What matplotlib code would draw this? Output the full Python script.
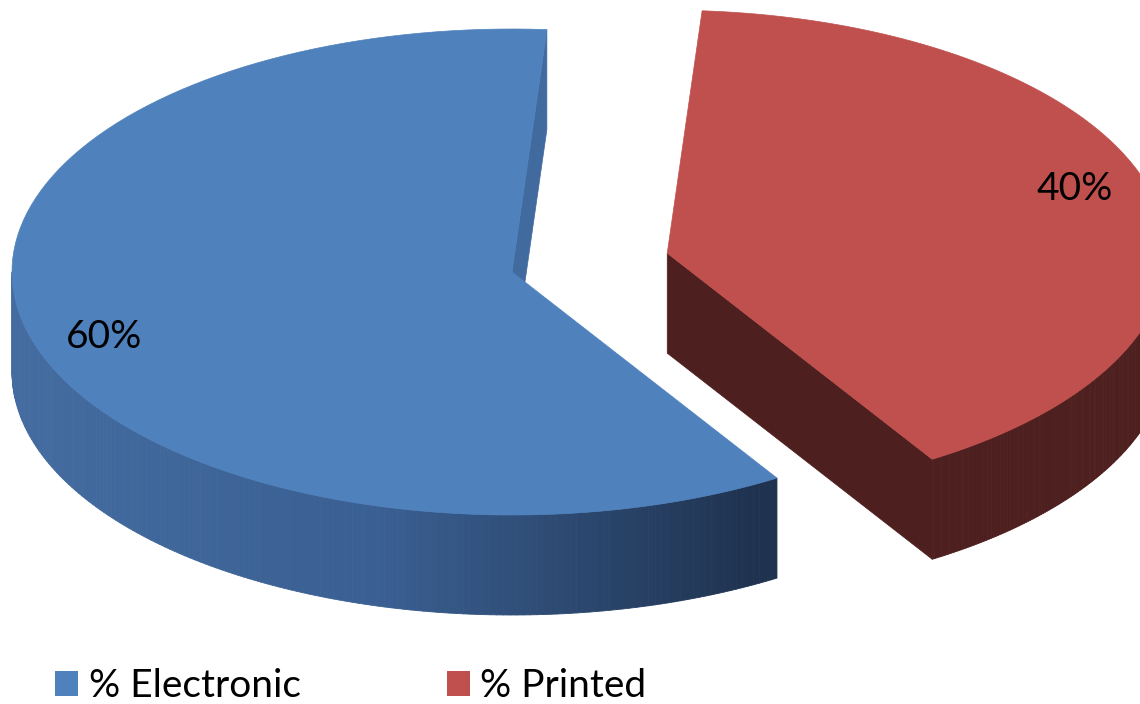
import matplotlib.pyplot as plt
import numpy as np
from matplotlib.collections import PolyCollection
from matplotlib.colors import LinearSegmentedColormap
from matplotlib.patches import Patch, Polygon

CATEGORIES = ["% Electronic", "% Printed"]
SHARES = [60, 40]
LABELS = ["60%", "40%"]
TOP_COLORS = ["#4F81BD", "#C0504D"]
RADIAL_COLORS = ["#416A9E", "#4E1F1F"]
SIDE_COLORS = [["#446CA0", "#3A5F92", "#1F3350"], ["#4E1F1F", "#4E1F1F"]]
EXPLODE = [0.0, 0.32]

W, H = 1140, 704
CENTER = (512, 272)
RX, RY = 500, 243
DEPTH = 100
START_ANGLE = 86
LABEL_R = (0.84, 1.1)
FONT = ["Lato", "DejaVu Sans"]


def pt(cx, cy, ang, rx=1.0, ry=1.0):
    t = np.radians(ang)
    return np.array([cx + rx * RX * np.cos(t), cy - ry * RY * np.sin(t)])


def arc(cx, cy, a0, a1, n=120):
    t = np.radians(np.linspace(a0, a1, n))
    return np.column_stack([cx + RX * np.cos(t), cy - RY * np.sin(t)])


def front_range(a0, a1):
    # part of [a0, a1] that faces the viewer (lower half of the ellipse)
    out = []
    for k in range(-1, 3):
        lo, hi = 180 + 360 * k, 360 + 360 * k
        s, e = max(a0, lo), min(a1, hi)
        if e > s:
            out.append((s, e))
    return out


def draw_slice(ax, cx, cy, a0, a1, top, radial, side):
    d = np.array([0, DEPTH])
    c = np.array([cx, cy])
    # radial faces
    for ang, sign in [(a0, 1), (a1, -1)]:
        if sign * np.cos(np.radians(ang)) > 0:
            p = pt(cx, cy, ang)
            ax.add_patch(Polygon([c, p, p + d, c + d], closed=True,
                                 facecolor=radial, edgecolor=radial, lw=0.5))
    # outer wall with horizontal shading
    cmap = LinearSegmentedColormap.from_list("side", side)
    for s, e in front_range(a0, a1):
        pts = arc(cx, cy, s, e, 160)
        quads = [[pts[i], pts[i + 1], pts[i + 1] + d, pts[i] + d]
                 for i in range(len(pts) - 1)]
        xm = (pts[:-1, 0] + pts[1:, 0]) / 2
        cols = cmap((xm - (cx - RX)) / (2 * RX * 0.74))
        ax.add_collection(PolyCollection(quads, facecolors=cols,
                                         edgecolors=cols, linewidths=0.6))
    # top face
    face = np.vstack([c, arc(cx, cy, a0, a1)])
    ax.add_patch(Polygon(face, closed=True, facecolor=top, edgecolor=top, lw=0.5))


def main():
    fig = plt.figure(figsize=(W / 100, H / 100), dpi=100)
    ax = fig.add_axes([0, 0, 1, 1])
    ax.set_xlim(0, W)
    ax.set_ylim(H, 0)
    ax.axis("off")

    total = sum(SHARES)
    a0 = START_ANGLE
    for i, share in enumerate(SHARES):
        sweep = 360 * share / total
        a1 = a0 + sweep
        mid = np.radians(a0 + sweep / 2)
        cx = CENTER[0] + EXPLODE[i] * RX * np.cos(mid)
        cy = CENTER[1] - EXPLODE[i] * RY * np.sin(mid)
        draw_slice(ax, cx, cy, a0, a1, TOP_COLORS[i], RADIAL_COLORS[i], SIDE_COLORS[i])
        lx, ly = pt(cx, cy, a0 + sweep / 2, *LABEL_R)
        ax.text(lx, ly, LABELS[i], ha="center", va="center", fontsize=28,
                family=FONT, color="black", zorder=5)
        a0 = a1

    handles = [Patch(facecolor=col, edgecolor="none") for col in TOP_COLORS]
    fig.legend(handles, CATEGORIES, loc="lower left", bbox_to_anchor=(55 / W, 0.0),
               ncol=2, frameon=False, prop={"family": FONT, "size": 28},
               handlelength=0.59, handleheight=0.59, handletextpad=0.28,
               columnspacing=3.75, borderpad=0.0, borderaxespad=0.0)

    fig.savefig("out.png", dpi=100)


if __name__ == "__main__":
    main()
